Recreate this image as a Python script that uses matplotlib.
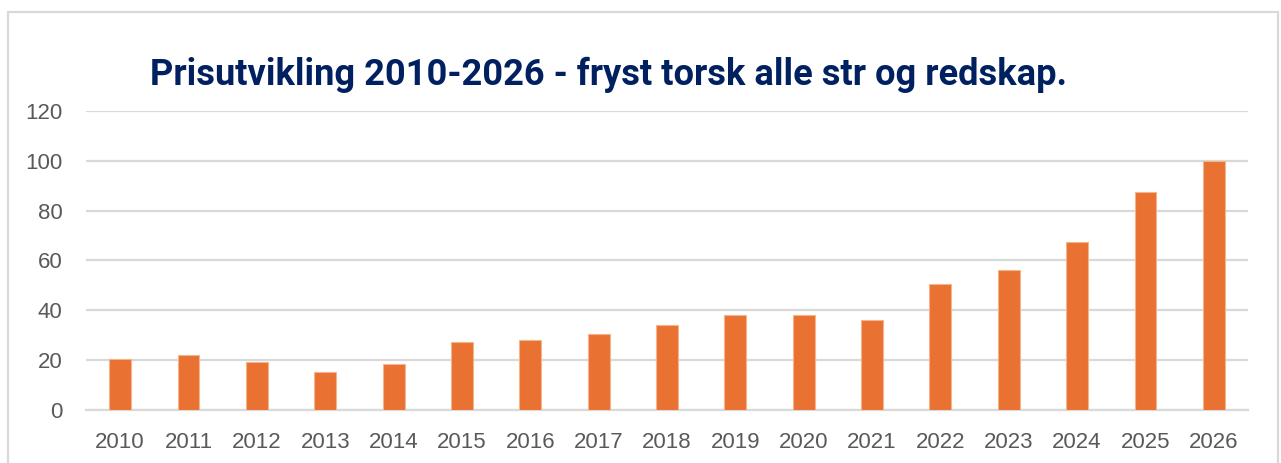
import matplotlib
matplotlib.use("Agg")
import matplotlib.pyplot as plt
from matplotlib.patches import Rectangle

years = ['2010', '2011', '2012', '2013', '2014', '2015', '2016', '2017', '2018',
         '2019', '2020', '2021', '2022', '2023', '2024', '2025', '2026']
prices = [20.2, 22.1, 18.9, 15.1, 18.3, 27.1, 27.9, 30.4, 34.0,
          38.1, 38.0, 36.0, 50.6, 55.9, 67.2, 87.3, 100.0]
y_ticks = [0, 20, 40, 60, 80, 100, 120]
title = 'Prisutvikling 2010-2026 - fryst torsk alle str og redskap.'

W, H = 1281, 463
fig = plt.figure(figsize=(W / 100, H / 100), dpi=100)
fig.patch.set_facecolor('white')

# outer chart frame (bottom edge is cut off in the reference)
fig.patches.append(Rectangle((7.5 / W, -0.05), (1278 - 7.5) / W, 1.05 - 12 / H,
                             transform=fig.transFigure, fill=False,
                             edgecolor='#d9d9d9', linewidth=1.6))

ax = fig.add_axes([86 / W, 1 - 409.5 / H, (1248 - 86) / W, (409.5 - 111) / H])
x = range(len(years))
ax.bar(x, prices, width=0.32, color='#E97132', edgecolor='#F4B48C', linewidth=0.8, zorder=3)

ax.set_xlim(-0.5, len(years) - 0.5)
ax.set_ylim(0, 120)
ax.set_yticks(y_ticks)
ax.set_xticks(list(x))
ax.set_xticklabels(years)
ax.yaxis.grid(True, color='#d9d9d9', linewidth=1.6, zorder=0)
ax.set_axisbelow(True)
for s in ['top', 'right', 'left']:
    ax.spines[s].set_visible(False)
ax.spines['bottom'].set_color('#d9d9d9')
ax.spines['bottom'].set_linewidth(1.6)
ax.tick_params(axis='both', length=0, labelcolor='#595959', labelsize=16)
ax.tick_params(axis='y', pad=17)
ax.tick_params(axis='x', pad=16)
for lab in ax.get_xticklabels() + ax.get_yticklabels():
    lab.set_family('Liberation Sans')

t = fig.text(609 / W, 1 - 75 / H, title, ha='center', va='center',
             fontsize=24, fontweight='bold', color='#002060', family='Roboto')
# scale title to the width it has in the reference
fig.canvas.draw()
w = t.get_window_extent().width
t.set_fontsize(24 * 918 / w)

fig.savefig('out.png', dpi=100)
